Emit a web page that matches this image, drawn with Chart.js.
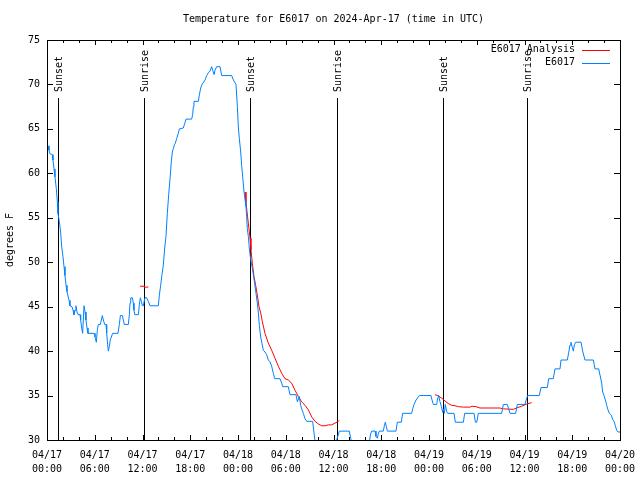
<!DOCTYPE html>
<html>
<head>
<meta charset="utf-8">
<title>Temperature for E6017</title>
<script src="https://cdn.jsdelivr.net/npm/chart.js@4.4.1/dist/chart.umd.min.js"></script>
<style>
  body { margin: 0; background: #fff; }
  canvas { display: block; }
</style>
</head>
<body>
<canvas id="tempChart" width="640" height="480" style="width:640px;height:480px"></canvas>
<script>
// hours since 04/17 00:00 UTC
const tickDates = ['04/17', '04/17', '04/17', '04/17', '04/18', '04/18', '04/18', '04/18', '04/19', '04/19', '04/19', '04/19', '04/20'];
const tickTimes = ['00:00', '06:00', '12:00', '18:00', '00:00', '06:00', '12:00', '18:00', '00:00', '06:00', '12:00', '18:00', '00:00'];

const sunHours = [1.42, 12.22, 25.5, 36.4, 49.7, 60.36];
const sunLabels = ['Sunset', 'Sunrise', 'Sunset', 'Sunrise', 'Sunset', 'Sunrise'];

// E6017 observations
const obsHours = [
  0.13, 0.25, 0.38, 0.67, 0.75, 0.88, 1.0, 1.17, 1.3, 1.38, 1.55, 1.72, 1.84, 2.01, 2.14, 2.26, 2.39, 2.51, 2.64, 2.77,
  2.89, 3.14, 3.27, 3.39, 3.52, 3.64, 3.77, 3.9, 4.15, 4.23, 4.36, 4.48, 4.65, 4.78, 4.9, 5.03, 5.15, 5.91, 6.03, 6.2,
  6.33, 6.45, 6.7, 6.83, 6.95, 7.08, 7.25, 7.42, 7.5, 7.62, 7.71, 7.83, 7.96, 8.13, 8.25, 8.92, 9.09, 9.22, 9.47, 9.59,
  9.72, 10.22, 10.35, 10.43, 10.52, 10.72, 10.85, 10.93, 11.02, 11.48, 11.6, 11.73, 11.86, 11.98, 12.1, 12.31, 12.52, 12.73, 12.94, 13.99,
  14.12, 14.28, 14.45, 14.62, 14.79, 14.95, 15.12, 15.29, 15.46, 15.62, 15.75, 15.88, 16.0, 16.13, 16.29, 16.5, 16.63, 17.13, 17.3, 17.47,
  18.18, 18.3, 18.39, 18.47, 19.02, 19.14, 19.31, 19.48, 19.86, 20.07, 20.27, 20.48, 20.69, 20.82, 20.99, 21.11, 21.32, 21.74, 21.95, 23.21,
  23.42, 23.75, 23.92, 24.05, 24.17, 24.34, 24.46, 24.59, 24.76, 24.92, 25.0, 25.09, 25.17, 25.3, 25.42, 25.59, 25.76, 25.93, 26.09, 26.26,
  26.43, 26.55, 26.68, 26.85, 27.01, 27.18, 27.39, 27.6, 27.81, 28.02, 28.23, 28.44, 28.61, 29.28, 29.49, 29.61, 30.32, 30.53, 31.29, 31.46,
  31.71, 31.87, 32.04, 32.21, 32.42, 32.63, 33.38, 33.55, 33.72, 34.6, 35.8, 36.4, 36.73, 37.99, 38.16, 38.28, 39.4, 40.5, 40.67, 40.8,
  41.22, 41.34, 41.51, 41.63, 41.76, 42.26, 42.39, 42.51, 42.64, 42.77, 43.85, 44.02, 44.52, 44.69, 45.82, 45.95, 46.12, 46.37, 46.79, 48.25,
  48.38, 48.55, 48.97, 49.05, 49.22, 49.38, 49.55, 49.72, 49.8, 49.93, 50.05, 50.22, 50.35, 51.14, 51.31, 52.32, 52.48, 53.66, 53.83, 54.0,
  54.2, 57.13, 57.34, 57.84, 58.01, 58.18, 58.89, 59.1, 60.06, 60.27, 60.4, 61.86, 62.07, 62.87, 63.04, 63.62, 63.83, 64.46, 64.59, 65.38,
  65.55, 65.72, 65.84, 66.01, 66.14, 66.26, 66.43, 67.1, 67.31, 67.6, 68.65, 68.86, 69.32, 69.49, 69.7, 69.82, 69.99, 70.16, 70.33, 70.49,
  70.66, 70.91, 71.08, 71.25, 71.42, 71.58, 71.75, 72.0
];
const obsTemps = [
  63.1, 62.6, 62.2, 62.1, 61.5, 60.5, 59.6, 58.3, 56.8, 55.5, 54.6, 53.3, 51.8, 50.6, 49.5, 48.5, 47.4, 46.7, 46.2, 45.7,
  45.1, 45.0, 44.6, 44.1, 44.6, 45.1, 44.4, 44.1, 44.1, 43.5, 42.6, 42.0, 45.1, 44.4, 43.5, 42.6, 42.0, 42.0, 41.6, 41.0,
  42.4, 43.0, 43.0, 43.5, 44.0, 43.5, 43.0, 43.0, 42.0, 40.7, 40.0, 40.5, 41.3, 41.7, 42.0, 42.0, 43.0, 44.0, 44.0, 43.5,
  43.0, 43.0, 44.1, 45.4, 46.0, 46.0, 45.4, 44.6, 44.1, 44.1, 45.2, 46.0, 45.6, 45.1, 45.1, 46.0, 46.0, 45.6, 45.1, 45.1,
  46.3, 47.4, 48.6, 49.7, 51.6, 52.9, 55.5, 57.6, 59.4, 61.3, 62.4, 62.8, 63.2, 63.4, 63.9, 64.5, 65.0, 65.1, 65.6, 66.1,
  66.1, 66.6, 67.5, 68.1, 68.1, 68.8, 69.6, 70.0, 70.5, 71.0, 71.3, 71.5, 72.0, 71.6, 71.1, 71.6, 72.0, 72.0, 71.0, 71.0,
  70.5, 70.0, 67.5, 65.1, 63.9, 62.4, 60.9, 59.6, 57.9, 56.8, 56.3, 55.1, 53.8, 52.9, 51.6, 50.3, 49.5, 48.6, 47.6, 46.5,
  45.4, 44.4, 42.9, 41.6, 40.9, 40.1, 39.9, 39.6, 39.0, 38.8, 38.3, 37.5, 36.9, 36.9, 36.4, 36.0, 36.0, 35.1, 35.1, 34.3,
  34.9, 33.9, 33.4, 33.0, 32.4, 32.1, 32.1, 30.8, 29.6, 29.0, 29.0, 30.0, 31.0, 31.0, 30.2, 29.8, 29.0, 29.8, 30.7, 31.0,
  31.0, 30.4, 30.2, 30.7, 31.0, 31.0, 31.6, 32.0, 31.5, 31.0, 31.0, 32.0, 32.0, 33.0, 33.0, 33.5, 34.0, 34.5, 35.0, 35.0,
  34.5, 34.0, 34.0, 34.5, 35.0, 34.3, 33.8, 33.1, 33.5, 33.0, 34.0, 33.2, 33.0, 33.0, 32.0, 32.0, 33.0, 33.0, 32.0, 32.0,
  33.0, 33.0, 34.0, 34.0, 33.5, 33.0, 33.0, 34.0, 34.0, 34.7, 35.0, 35.0, 35.9, 35.9, 36.9, 36.9, 38.0, 38.0, 39.0, 39.0,
  39.8, 40.7, 41.0, 40.4, 40.0, 40.7, 41.0, 41.0, 40.0, 39.0, 39.0, 38.0, 38.0, 37.3, 36.4, 35.4, 35.0, 34.5, 33.9, 33.4,
  33.0, 32.8, 32.3, 32.1, 31.6, 31.1, 30.9, 30.9
];

// E6017 Analysis (null = gap)
const anaHours = [
  11.69, 12.22, 12.24, 12.73, 18.0,
  24.88, 25.0, 25.2, 25.3, 25.51, 25.63, 25.8, 26.01, 26.22, 26.43, 26.64, 26.85, 27.06, 27.39, 27.81, 28.23, 28.65, 29.07, 29.49, 29.9,
  30.32, 30.74, 31.16, 31.58, 32.0, 32.42, 32.84, 33.26, 33.68, 34.1, 34.51, 34.93, 35.35, 35.77, 36.19, 36.6, 36.73, 42.0,
  48.76, 49.18, 49.6, 50.0, 50.43, 50.85, 51.27, 51.69, 52.32, 53.16, 53.4, 53.9, 54.4, 55.5, 56.9, 57.34, 58.6, 59.0, 59.64, 60.27, 60.9
];
const anaTemps = [
  47.3, 47.3, 47.2, 47.2, null,
  57.9, 56.8, 55.1, 54.4, 52.7, 51.4, 49.9, 48.4, 47.4, 46.3, 45.0, 44.3, 43.3, 42.0, 40.9, 40.1, 39.2, 38.3, 37.5, 36.9,
  36.75, 36.4, 35.6, 34.9, 34.3, 33.9, 33.4, 32.6, 32.1, 31.8, 31.6, 31.6, 31.7, 31.7, 31.9, 32.1, 32.2, null,
  35.1, 34.95, 34.7, 34.4, 34.1, 33.9, 33.85, 33.75, 33.7, 33.7, 33.8, 33.75, 33.6, 33.6, 33.6, 33.5, 33.45, 33.6, 33.8, 34.05, 34.2
];

const FONT = '10px "DejaVu Sans Mono", "Liberation Mono", monospace';
Chart.defaults.font.family = '"DejaVu Sans Mono", "Liberation Mono", monospace';
Chart.defaults.font.size = 10;
Chart.defaults.color = '#000';

function toPoints(xs, ys) {
    return xs.map((x, i) => ({ x: x, y: ys[i] }));
}

// sunrise / sunset markers, under the data
const sunPlugin = {
    id: 'sunLines',
    beforeDatasetsDraw(chart) {
        const { ctx, chartArea: a, scales: { x } } = chart;
        ctx.save();
        ctx.strokeStyle = '#000';
        ctx.lineWidth = 1;
        ctx.fillStyle = '#000';
        ctx.font = FONT;
        sunHours.forEach((h, i) => {
            const px = Math.round(x.getPixelForValue(h)) + 0.5;
            ctx.beginPath();
            ctx.moveTo(px, a.top + 58);
            ctx.lineTo(px, a.bottom);
            ctx.stroke();
            ctx.save();
            ctx.translate(px + 1, a.top + 52);
            ctx.rotate(-Math.PI / 2);
            ctx.textAlign = 'left';
            ctx.textBaseline = 'middle';
            ctx.fillText(sunLabels[i], 0, 0);
            ctx.restore();
        });
        ctx.restore();
    }
};

// gnuplot style frame, inward ticks and legend
const framePlugin = {
    id: 'frame',
    afterDraw(chart) {
        const { ctx, chartArea: a, scales: { x, y } } = chart;
        ctx.save();
        ctx.strokeStyle = '#000';
        ctx.lineWidth = 1;
        ctx.strokeRect(a.left + 0.5, a.top + 0.5, a.right - a.left, a.bottom - a.top);

        ctx.beginPath();
        for (let h = x.min; h <= x.max; h += 2) {
            const px = Math.round(x.getPixelForValue(h)) + 0.5;
            const len = h % 6 === 0 ? 5 : 3;
            ctx.moveTo(px, a.bottom);
            ctx.lineTo(px, a.bottom - len);
            ctx.moveTo(px, a.top);
            ctx.lineTo(px, a.top + len);
        }
        y.ticks.forEach(t => {
            const py = Math.round(y.getPixelForValue(t.value)) + 0.5;
            ctx.moveTo(a.left, py);
            ctx.lineTo(a.left + 6, py);
            ctx.moveTo(a.right, py);
            ctx.lineTo(a.right - 6, py);
        });
        ctx.stroke();

        // legend, top right
        ctx.font = FONT;
        ctx.textAlign = 'right';
        ctx.textBaseline = 'middle';
        ctx.fillStyle = '#000';
        chart.data.datasets.forEach((ds, i) => {
            const ly = a.top + 9.5 + i * 13;
            ctx.fillText(ds.label, a.right - 45, ly);
            ctx.strokeStyle = ds.borderColor;
            ctx.beginPath();
            ctx.moveTo(a.right - 38, Math.round(ly) + 0.5);
            ctx.lineTo(a.right - 10, Math.round(ly) + 0.5);
            ctx.stroke();
        });
        ctx.restore();
    }
};

const ctx = document.getElementById('tempChart').getContext('2d');
const tempChart = new Chart(ctx, {
    type: 'line',
    data: {
        datasets: [
            {
                label: 'E6017 Analysis',
                data: toPoints(anaHours, anaTemps),
                borderColor: '#ff0000',
                borderWidth: 1,
                pointRadius: 0,
                spanGaps: false,
                order: 1
            },
            {
                label: 'E6017',
                data: toPoints(obsHours, obsTemps),
                borderColor: '#0080ff',
                borderWidth: 1,
                pointRadius: 0,
                order: 0
            }
        ]
    },
    options: {
        responsive: false,
        animation: false,
        events: [],
        layout: { padding: { left: 0, right: 20, top: 0, bottom: 0 } },
        plugins: {
            legend: { display: false },
            tooltip: { enabled: false },
            title: {
                display: true,
                text: 'Temperature for E6017 on 2024-Apr-17 (time in UTC)',
                fullSize: false,
                color: '#000',
                font: { size: 10, weight: 'normal', lineHeight: 1.2 },
                padding: { top: 13, bottom: 15 }
            }
        },
        scales: {
            x: {
                type: 'linear',
                min: 0,
                max: 72,
                grid: { display: false, drawTicks: false },
                border: { display: false },
                ticks: {
                    stepSize: 6,
                    padding: 8,
                    maxRotation: 0,
                    autoSkip: false,
                    font: { size: 10, lineHeight: 1.45 },
                    callback: (value) => {
                        const i = Math.round(value / 6);
                        return [tickDates[i], tickTimes[i]];
                    }
                },
                afterFit: (scale) => {
                    scale.height = 40;
                    scale.paddingLeft = 0;
                    scale.paddingRight = 0;
                }
            },
            y: {
                min: 30,
                max: 75,
                grid: { display: false, drawTicks: false },
                border: { display: false },
                ticks: { stepSize: 5, padding: 7 },
                title: {
                    display: true,
                    text: 'degrees F',
                    font: { size: 10, lineHeight: 1.2 },
                    padding: { top: 4, bottom: 0 }
                },
                afterFit: (scale) => { scale.width = 47; }
            }
        }
    },
    plugins: [sunPlugin, framePlugin]
});
</script>
</body>
</html>
